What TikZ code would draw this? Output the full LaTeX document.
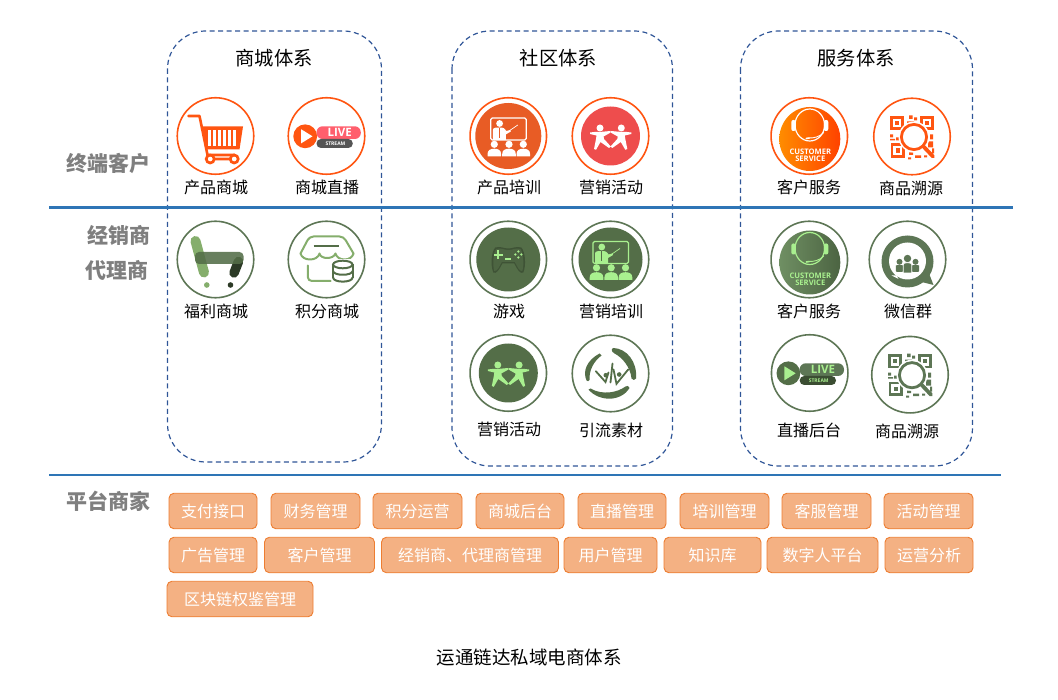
\documentclass[tikz,border=0pt]{standalone}
\usepackage{fontspec}
\setmainfont{Noto Sans CJK SC}
\newfontfamily\iconfont{Open Sans}
\usetikzlibrary{shadings}
\definecolor{OrRing}{HTML}{FF5511}
\definecolor{GrRing}{HTML}{5D7655}
\definecolor{GrFill}{HTML}{546E48}
\definecolor{GrLight}{HTML}{A9F08F}
\definecolor{GrMid}{HTML}{85AE6C}
\definecolor{GrDark}{HTML}{2C3A26}
\definecolor{OrFill}{HTML}{E85C25}
\definecolor{RdFill}{HTML}{EE4D4D}
\definecolor{RuleBlue}{HTML}{2E75B6}
\definecolor{DashBlue}{HTML}{2F5597}
\definecolor{PillFill}{HTML}{F4B183}
\definecolor{PillLine}{HTML}{ED7D31}
\definecolor{RowGray}{HTML}{7F7F7F}
\definecolor{LivePink}{HTML}{FF5F6D}
\definecolor{StreamGray}{HTML}{555555}
\definecolor{SvcA}{HTML}{FF8C00}
\definecolor{SvcB}{HTML}{FF4200}
\definecolor{SvcC}{HTML}{6F8F63}
\definecolor{SvcD}{HTML}{4C6442}
\tikzset{
  x=1pt,y=-1pt,
  groupbox/.style={draw=DashBlue,line width=1.2pt,dash pattern=on 5pt off 3.5pt,rounded corners=38pt},
  grouptitle/.style={font=\fontsize{19.3}{19.3}\selectfont,inner sep=0,text=black},
  ring/.style={circle,draw=#1,line width=1.6pt,minimum size=76.5pt,inner sep=0,fill=white},
  iconlabel/.style={font=\fontsize{16}{16}\selectfont,inner sep=0,text=black},
  rowlabel/.style={font=\fontsize{21}{21}\selectfont\bfseries,inner sep=0,text=RowGray,anchor=east},
  rule/.style={draw=RuleBlue,line width=2.2pt},
  pill/.style={draw=PillLine,fill=PillFill,line width=.9pt,rounded corners=5pt,text=white,
    font=\fontsize{16}{16}\selectfont,inner sep=0,minimum height=35.5pt},
}
% --- icon pieces, all in pixels relative to the ring centre
\newcommand{\icCart}{%
  \draw[OrRing,line width=2.6pt,line cap=round,line join=round] (-27,-20) -- (-16,-20) -- (-8,19) -- (19,19);
  \fill[OrRing] (-14,-9.5) -- (27.5,-9.5) -- (24,13.5) -- (-9,13.5) -- cycle;
  \foreach \sx in {-7.5,-2.5,2.5,7.5,12.5,17.5}{\fill[white] (\sx,-5.5) rectangle ++(2.6,15.5);}
  \draw[OrRing,line width=2.7pt] (-5.3,23) circle (4) (18.7,23) circle (4) (-1.3,23) -- (14.7,23);
}
\newcommand{\icLive}[5]{% disc, triangle, pill1, pill2, text
  \fill[#3,rounded corners=6pt] (-10,-9.7) rectangle (34.3,3);
  \fill[#4,rounded corners=4.4pt] (-10,3) rectangle (26.3,12);
  \fill[#1] (-21.3,0.3) circle (11.9);
  \fill[#2] (-25.3,-6.7) -- (-25.3,7.3) -- (-14,0.3) -- cycle;
  \node[inner sep=0,text=#5,font=\iconfont\fontsize{11.5}{11.5}\selectfont\bfseries] (livetext) at (13.3,-3.4) {LIVE};
  \node[inner sep=0,text=#5,font=\iconfont\fontsize{5}{5}\selectfont\bfseries] (streamtext) at (9,7.4) {STREAM};
}
\newcommand{\icGreenCart}{%
  \draw[GrMid,line width=10pt,line cap=round] (-20,-18.5) -- (-11.5,13);
  \draw[GrDark,line width=9.5pt,line cap=round] (23,2) -- (18.5,13.5);
  \fill[GrFill,opacity=.88,rounded corners=4pt] (-20.5,-7.5) rectangle (28,4.5);
  \fill[GrMid] (-8.7,25.5) circle (2.8);
  \fill[GrDark] (15,25.5) circle (2.8);
}
\newcommand{\icShop}{%
  \draw[GrMid,line width=2pt,line cap=round,line join=round,rounded corners=4pt]
    (-26,-6) -- (-17,-23) -- (17,-23) -- (27,-6);
  \draw[GrMid,line width=2pt,line cap=round,line join=round]
    (-26,-6) .. controls (-24,2) and (-9,2) .. (-7,-6)
    .. controls (-6,0) and (7,0) .. (9,-6)
    .. controls (11,2) and (25,2) .. (27,-6);
  \draw[GrFill,line width=2pt] (-13,-13.7) -- (12,-13.7);
  \draw[GrMid,line width=2pt,line cap=round,rounded corners=4pt] (-18.7,6) -- (-18.7,21.5) -- (4,21.5);
  \fill[white] (5,0) rectangle (28,25);
  \draw[GrFill,line width=2pt] (16.3,5) ellipse (9.7 and 3.8);
  \draw[GrFill,line width=2pt] (6.6,5) -- (6.6,18.5) (26,5) -- (26,18.5);
  \draw[GrFill,line width=2pt] (6.6,11.5) .. controls (6.6,16.5) and (26,16.5) .. (26,11.5);
  \draw[GrFill,line width=2pt] (6.6,18) .. controls (6.6,23.5) and (26,23.5) .. (26,18);
}
\newcommand{\icTrainer}[2]{% ink, shade
  \draw[#1,line width=1.3pt,rounded corners=1.5pt] (-17.5,-18) rectangle (18,4);
  \fill[#1] (-8.7,-12.5) circle (3.4);
  \fill[#1] (-15.5,4) -- (-15.5,-6) .. controls (-15.5,-8.5) and (-12,-8.5) .. (-8.7,-8.5)
     .. controls (-5,-8.5) and (-4,-8) .. (-2,-5) -- (2,-6) -- (2.5,-4.5) -- (-2.5,-1.5) -- (-2.5,4) -- cycle;
  \draw[#2,line width=.9pt] (-8.7,-8) -- (-8.7,2);
  \draw[#1,line width=.7pt] (0,-4.5) -- (9.5,-11);
  \foreach \px in {-14,0.7,15}{
    \fill[#1] (\px,8.3) circle (3.6);
    \fill[#1] (\px-6.8,20.5) -- (\px-6.8,18) .. controls (\px-6.8,14) and (\px-3.5,12.7) .. (\px,12.7)
       .. controls (\px+3.5,12.7) and (\px+6.8,14) .. (\px+6.8,18) -- (\px+6.8,20.5) -- cycle;
  }
}
\newcommand{\oneStar}[3]{% x, flip, colour
  \begin{scope}[shift={(#1,0)},xscale=#2]
    \fill[#3] (0,-8) circle (3.5);
    \fill[#3] (-10,-3.5) -- (-4,-4.2) -- (1.5,-4.2) -- (10.5,-5) -- (10.5,-3.4) -- (3.6,0.5) -- (4,3) -- (10.8,10.5)
      -- (9,12) -- (0.5,6) -- (-4,13.8) -- (-6,13) -- (-4,3) -- (-3.5,-0.5) -- (-10,-2) -- cycle;
  \end{scope}
}
\newcommand{\icStars}[1]{\oneStar{-10.5}{1}{#1}\oneStar{10.8}{-1}{#1}}
\newcommand{\icGame}{%
  \fill[black!25!GrFill] (-13,-12) .. controls (-7,-13.5) and (-5,-11) .. (0,-11) .. controls (5,-11) and (7,-13.5) .. (13,-12)
     .. controls (17,-8) and (18,6) .. (15,13) .. controls (12,15) and (9,10) .. (6,4)
     -- (-6,4) .. controls (-9,10) and (-12,15) .. (-15,13) .. controls (-18,6) and (-17,-8) .. (-13,-12) -- cycle;
  \fill[black!8!GrFill] (-12,-10.5) .. controls (-7,-12) and (-5,-9.5) .. (0,-9.5) .. controls (5,-9.5) and (7,-12) .. (12,-10.5)
     .. controls (15,-7) and (16,5) .. (14,11.5) .. controls (11,12) and (9,7) .. (6.5,2.5)
     -- (-6.5,2.5) .. controls (-9,7) and (-11,12) .. (-14,11.5) .. controls (-16,5) and (-15,-7) .. (-12,-10.5) -- cycle;
  \draw[GrLight,line width=2pt] (-14.5,-4.5) -- (-5.5,-4.5) (-10,-9) -- (-10,0);
  \draw[GrLight,line width=1.4pt] (-3,-0.5) -- (3,-0.5);
  \fill[GrLight] (10,-8) circle (1.3) (10,-2) circle (1.3) (7,-5) circle (1.3) (13,-5) circle (1.3);
}
\newcommand{\icLead}{%
  \fill[GrFill] (3,-25.5) .. controls (16,-25) and (27,-12) .. (25.5,5) .. controls (24.5,7) and (22,7) .. (21,5)
     .. controls (20,-6) and (12,-16) .. (4,-20) .. controls (0.5,-22) and (0.5,-25) .. (3,-25.5) -- cycle;
  \fill[GrFill] (-11,-20) .. controls (-24,-13) and (-28,-2) .. (-24,7) .. controls (-23,8) and (-21.5,8) .. (-21,6.5)
     .. controls (-21.5,-3) and (-17,-12) .. (-9,-18) -- cycle;
  \fill[GrFill] (-22,16) .. controls (-12,28) and (10,29) .. (19,14.5) .. controls (19,12.5) and (16,11.5) .. (15,13)
     .. controls (7,19) and (-8,22) .. (-20,15) -- cycle;
  \draw[GrFill,line width=1.8pt,line cap=round] (-14.7,-2.3) -- (-5,8.5) -- (-2,-1) (2,-10) -- (0,9);
  \draw[GrFill,line width=1.8pt,line cap=round] (17.7,-4) -- (6,10.3) -- (3,-4);
  \fill[GrFill] (-4.7,1.7) circle (2.3) (8.7,1) circle (2.3);
}
\newcommand{\icService}[3]{% disc colour a, disc colour b, ink
  \shade[left color=#1,right color=#2] (0.5,3) ellipse (30.5 and 32);
  \draw[#3,line width=1.2pt] (0.5,-11) ellipse (14.8 and 16);
  \fill[#3,rounded corners=2pt] (-18,-16) rectangle (-13.5,-5);
  \fill[#3,rounded corners=2pt] (14.5,-16) rectangle (19,-5);
  \draw[#3,line width=.9pt] (14.5,-3.5) .. controls (10,1) and (5,2) .. (0,2);
  \draw[#3,line width=1.6pt,line cap=round] (0,2) -- (-3,2.5);
  \node[inner sep=0,text=#3,align=center,font=\iconfont\fontsize{7.6}{7.4}\selectfont\bfseries] (svctext) at (1,19.5) {CUSTOMER\\SERVICE};
}
\newcommand{\icQR}[1]{%
  \foreach \qx/\qy in {-22/-20.5,8/-20.5,-21.5/7}{
    \draw[#1,line width=2.8pt] (\qx+1.4,\qy+1.4) rectangle ++(11.4,11.4);
    \fill[#1] (\qx+5,\qy+5) rectangle ++(4.3,4.3);
  }
  \fill[#1] (-3,-21) rectangle ++(3.5,3.5) (2,-19) rectangle ++(3,3) (-5,-15) rectangle ++(7,3)
    (-22,-2) rectangle ++(3,3) (-16,1) rectangle ++(3,3) (-22,4) rectangle ++(5,-1.5)
    (18,-2) rectangle ++(3,5) (16,5) rectangle ++(5,6) (20,12) rectangle ++(2,5)
    (-3,16) rectangle ++(4,2.5) (3,19) rectangle ++(6,2.5) (-4,21) rectangle ++(3,2) (12,19) rectangle ++(3,2);
  \fill[white] (2,0.5) circle (15.5);
  \draw[#1,line width=2.8pt] (2,0.5) circle (12.6);
  \draw[#1,line width=3.8pt,line cap=round] (11.5,10) -- (21,20);
}
\newcommand{\icWechat}{%
  \fill[GrRing] (0,2) circle (26);
  \fill[GrRing] (-19,14) -- (-16,17.5) -- (-9,20) -- cycle;
  \fill[GrRing] (20,10) -- (26,25.5) -- (8,21) -- cycle;
  \fill[white] (0,1.5) circle (18.5);
  \fill[white] (-16,16) -- (-11,16) -- (-9,19.5) -- cycle;
  \foreach \hx in {-8,8}{
    \fill[GrRing] (\hx,2.3) circle (3);
    \fill[GrRing,rounded corners=1pt] (\hx-3.6,12.5) -- (\hx-3.6,7) .. controls (\hx-3.6,5.5) and (\hx+3.6,5.5) .. (\hx+3.6,7) -- (\hx+3.6,12.5) -- cycle;
  }
  \fill[GrRing] (0,-1) circle (3.7);
  \fill[GrRing,draw=white,line width=.8pt] (-4.3,13.5) -- (-4.3,5) .. controls (-4.3,2.5) and (4.3,2.5) .. (4.3,5) -- (4.3,13.5) -- cycle;
}
\begin{document}
\begin{tikzpicture}
\useasboundingbox (0,0) rectangle (1058,700);
% group frames
\draw[groupbox] (167.5,31) rectangle (381.5,462);
\draw[groupbox] (452,31) rectangle (672.5,466);
\draw[groupbox] (740.5,31) rectangle (972.5,466);
\node[grouptitle] (t1) at (274,58) {商城体系};
\node[grouptitle] (t2) at (558.5,58) {社区体系};
\node[grouptitle] (t3) at (856,58) {服务体系};
% horizontal rules
\coordinate (r1a) at (49,207.5); \coordinate (r1b) at (1013,207.5);
\coordinate (r2a) at (49,475); \coordinate (r2b) at (1001,475);
\draw[rule] (r1a) -- (r1b);
\draw[rule] (r2a) -- (r2b);
% row labels
\node[rowlabel] (row1) at (151,163) {终端客户};
\node[rowlabel] (row2) at (151,235) {经销商};
\node[rowlabel] (row3) at (149,270) {代理商};
\node[rowlabel] (row4) at (151,501) {平台商家};
% ---- first row
\node[ring=OrRing] (a1) at (215.5,136) {};
\begin{scope}[shift={(215.5,136)}]\icCart\end{scope}
\node[iconlabel] (la1) at (216,187) {产品商城};
\node[ring=OrRing] (a2) at (326.5,136) {};
\begin{scope}[shift={(326.5,136)}]\icLive{OrRing}{white}{LivePink}{StreamGray}{white}\end{scope}
\node[iconlabel] (la2) at (327,187) {商城直播};
\node[ring=OrRing] (a3) at (508.3,136) {};
\begin{scope}[shift={(508.3,136)}]\fill[OrFill] (0,0) circle (33);\icTrainer{white}{OrFill}\end{scope}
\node[iconlabel] (la3) at (509,187) {产品培训};
\node[ring=OrRing] (a4) at (610.5,136) {};
\begin{scope}[shift={(610.5,136)}]\fill[RdFill] (0,0) circle (29.5);\icStars{white}\end{scope}
\node[iconlabel] (la4) at (611,187) {营销活动};
\node[ring=OrRing] (a5) at (809.3,136) {};
\begin{scope}[shift={(809.3,136)}]\icService{SvcA}{SvcB}{white}\end{scope}
\node[iconlabel] (la5) at (809,187) {客户服务};
\node[ring=OrRing] (a6) at (912,136.5) {};
\begin{scope}[shift={(912,136.5)}]\icQR{OrRing}\end{scope}
\node[iconlabel] (la6) at (911,188) {商品溯源};
% ---- second row
\node[ring=GrRing] (b1) at (215.5,259.5) {};
\begin{scope}[shift={(215.5,259.5)}]\icGreenCart\end{scope}
\node[iconlabel] (lb1) at (216,311) {福利商城};
\node[ring=GrRing] (b2) at (326.5,259.5) {};
\begin{scope}[shift={(326.5,259.5)}]\icShop\end{scope}
\node[iconlabel] (lb2) at (327,311) {积分商城};
\node[ring=GrRing] (b3) at (508.3,259.5) {};
\begin{scope}[shift={(508.3,259.5)}]\fill[GrFill] (0,0) circle (32);\icGame\end{scope}
\node[iconlabel] (lb3) at (509,311) {游戏};
\node[ring=GrRing] (b4) at (610.5,259.5) {};
\begin{scope}[shift={(610.5,259.5)}]\fill[GrFill] (0,0) circle (32);\icTrainer{GrLight}{GrFill}\end{scope}
\node[iconlabel] (lb4) at (611,311) {营销培训};
\node[ring=GrRing] (b5) at (809.3,259.5) {};
\begin{scope}[shift={(809.3,259.5)}]\icService{SvcC}{SvcD}{GrLight}\end{scope}
\node[iconlabel] (lb5) at (809,311) {客户服务};
\node[ring=GrRing] (b6) at (907.5,259.5) {};
\begin{scope}[shift={(907.5,259.5)}]\icWechat\end{scope}
\node[iconlabel] (lb6) at (908,311) {微信群};
% ---- third row
\node[ring=GrRing] (c1) at (508.3,373) {};
\begin{scope}[shift={(508.3,373)}]\fill[GrFill] (0,0) circle (29.5);\icStars{GrLight}\end{scope}
\node[iconlabel] (lc1) at (509,429) {营销活动};
\node[ring=GrRing] (c2) at (610.5,373.5) {};
\begin{scope}[shift={(610.5,373.5)}]\icLead\end{scope}
\node[iconlabel] (lc2) at (611,430) {引流素材};
\node[ring=GrRing] (c3) at (809.7,373) {};
\begin{scope}[shift={(809.7,373)}]\icLive{GrFill}{GrLight}{GrRing}{GrFill!70!black}{GrLight}\end{scope}
\node[iconlabel] (lc3) at (809,430) {直播后台};
\node[ring=GrRing] (c4) at (910,374.7) {};
\begin{scope}[shift={(910,374.7)}]\icQR{GrRing}\end{scope}
\node[iconlabel] (lc4) at (907,431.5) {商品溯源};
% ---- platform pills
\node[pill,minimum width=88pt] (p1) at (213,511) {支付接口};
\node[pill,minimum width=89pt] (p2) at (315.5,511) {财务管理};
\node[pill,minimum width=89pt] (p3) at (417.5,511) {积分运营};
\node[pill,minimum width=88pt] (p4) at (520,511) {商城后台};
\node[pill,minimum width=88pt] (p5) at (622,511) {直播管理};
\node[pill,minimum width=89pt] (p6) at (724.5,511) {培训管理};
\node[pill,minimum width=89pt] (p7) at (826.5,511) {客服管理};
\node[pill,minimum width=89pt] (p8) at (928.5,511) {活动管理};
\node[pill,minimum width=88pt] (q1) at (213,555) {广告管理};
\node[pill,minimum width=110pt] (q2) at (319.5,555) {客户管理};
\node[pill,minimum width=177pt] (q3) at (470,555) {经销商、代理商管理};
\node[pill,minimum width=93pt] (q4) at (610.5,555) {用户管理};
\node[pill,minimum width=97pt] (q5) at (712.5,555) {知识库};
\node[pill,minimum width=111pt] (q6) at (822.5,555) {数字人平台};
\node[pill,minimum width=88pt] (q7) at (929,555) {运营分析};
\node[pill,minimum width=146pt] (s1) at (240,599) {区块链权鉴管理};
% caption
\node[inner sep=0,text=black,font=\fontsize{18.5}{18.5}\selectfont] (cap) at (529,657) {运通链达私域电商体系};
\end{tikzpicture}
\end{document}
